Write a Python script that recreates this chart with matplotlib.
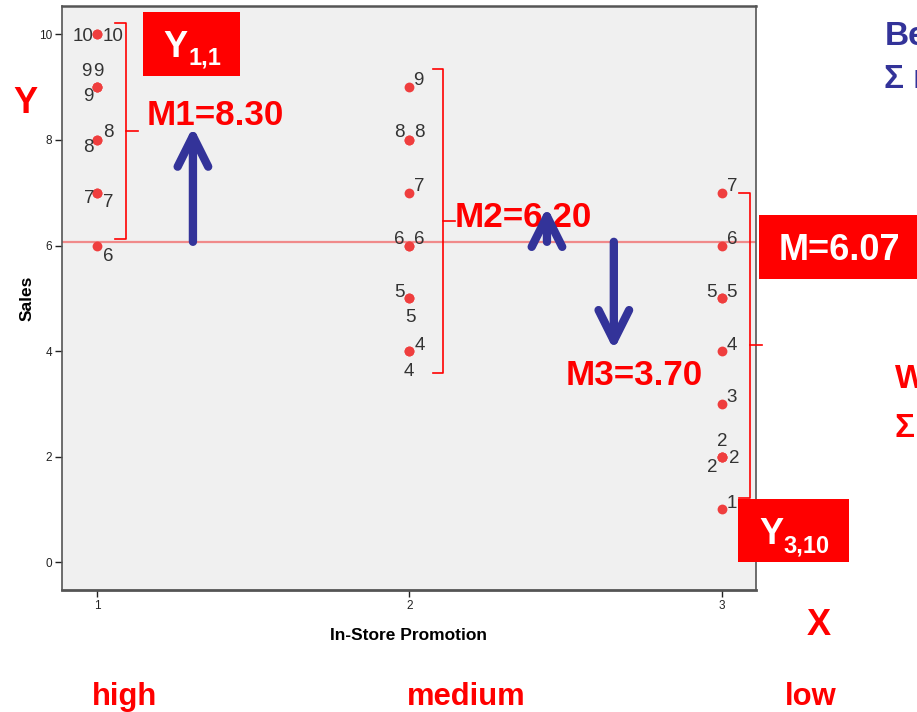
import matplotlib
matplotlib.use("Agg")

import matplotlib.pyplot as plt
from matplotlib.patches import Rectangle

W, H = 917, 712

# data: 10 stores per promotion level
promotion = [
    1, 1, 1, 1, 1, 1, 1, 1, 1, 1,
    2, 2, 2, 2, 2, 2, 2, 2, 2, 2,
    3, 3, 3, 3, 3, 3, 3, 3, 3, 3,
]
sales = [
    10, 10, 9, 9, 9, 8, 8, 7, 7, 6,
    9, 8, 8, 7, 6, 6, 5, 5, 4, 4,
    7, 6, 5, 5, 4, 3, 2, 2, 2, 1,
]
group_names = ["high", "medium", "low"]
group_means = [8.30, 6.20, 3.70]
grand_mean = 6.07
x_ticks = [1, 2, 3]
y_ticks = [0, 2, 4, 6, 8, 10]

# where each value label sits around its dot (pixels, same order as sales)
label_offsets = [
    (-14, 0), (16, 0), (-11, 18), (1, 18), (-9, -7),
    (-9, -6), (11, 9), (-8, -4), (11, -8), (11, -9),
    (9, 9), (-10, 9), (10, 9), (10, 8), (-10, 8),
    (10, 8), (-10, 8), (1, -17), (10, 8), (-1, -18),
    (10, 8), (10, 8), (-10, 8), (10, 8), (10, 8),
    (10, 8), (0, 17), (-10, -9), (12, 0), (10, 8),
]

RED = "#ff0000"
BLUE = "#333399"

plt.rcParams["font.family"] = ["Liberation Sans", "DejaVu Sans"]


def fx(px):
    return px / W


def fy(py):
    return 1 - py / H


fig = plt.figure(figsize=(W / 100, H / 100), dpi=100)
fig.patch.set_facecolor("white")

ax = fig.add_axes([fx(62), fy(590), (756 - 62) / W, (590 - 6) / H])
ax.set_facecolor("#f0f0f0")
ax.set_xlim(0.888, 3.109)
ax.set_ylim(-0.53, 10.54)

ax.set_xticks(x_ticks)
ax.set_yticks(y_ticks)
ax.tick_params(
    length=5,
    width=1,
    pad=2,
    labelsize=8.5,
    colors="#222222"
)

for side in ["top", "right", "left", "bottom"]:
    ax.spines[side].set_color("#555555")
    ax.spines[side].set_linewidth(1.2)
ax.spines["bottom"].set_linewidth(2)
ax.spines["top"].set_linewidth(1.8)

ax.set_xlabel("In-Store Promotion", fontsize=12.5, fontweight="bold")
ax.xaxis.set_label_coords(0.5, -0.065)
ax.set_ylabel("Sales", fontsize=12.5, fontweight="bold")
ax.yaxis.set_label_coords(-0.040, 0.5)

# grand mean line
ax.axhline(grand_mean, color="#f08a8a", lw=1.6, zorder=1)

# dots
ax.scatter(promotion, sales, s=50, color="#ef3e3e", linewidths=0, zorder=3)

for xv, yv, (dx, dy) in zip(promotion, sales, label_offsets):
    ax.annotate(
        str(yv),
        (xv, yv),
        xytext=(dx, dy - 2),
        textcoords="offset pixels",
        ha="center",
        va="center",
        fontsize=13.5,
        color="#333333",
        zorder=4
    )

# red brackets round each group
brace_x = [1.093, 2.107, 3.090]
brace_left = [1.058, 2.075, 3.054]
brace_tick = [1.131, 2.146, 3.128]
brace_top = [10.22, 9.35, 7.00]
brace_bottom = [6.12, 3.58, 1.21]

for bx, bl, bt, top, bot in zip(brace_x, brace_left, brace_tick, brace_top, brace_bottom):
    ax.plot(
        [bl, bx, bx, bl],
        [top, top, bot, bot],
        color=RED,
        lw=1.2,
        clip_on=False,
        zorder=5
    )
    mid = (top + bot) / 2
    ax.plot([bx, bt], [mid, mid], color=RED, lw=1.2, clip_on=False, zorder=5)

# group mean labels
mean_text_pos = [(147, 125), (455, 227), (566, 385)]
for i, (m, (px, py)) in enumerate(zip(group_means, mean_text_pos)):
    ax.text(
        fx(px),
        fy(py),
        f"M{i + 1}={m:.2f}",
        transform=fig.transFigure,
        ha="left",
        va="baseline",
        fontsize=25.2,
        fontweight="bold",
        color=RED,
        clip_on=False,
        zorder=6
    )

# arrows from grand mean towards group means
arrow_x = [1.307, 2.44, 2.654]
arrow_tip = [8.25, 6.73, 4.02]
for axv, tip in zip(arrow_x, arrow_tip):
    ax.annotate(
        "",
        xy=(axv, tip),
        xytext=(axv, grand_mean),
        arrowprops=dict(
            arrowstyle="->,head_length=1.0,head_width=0.5",
            mutation_scale=22,
            lw=6,
            color=BLUE,
            capstyle="round",
            joinstyle="round",
            shrinkA=0,
            shrinkB=0
        ),
        zorder=7
    )


def red_box(x0, y0, x1, y1):
    fig.add_artist(
        Rectangle(
            (fx(x0), fy(y1)),
            (x1 - x0) / W,
            (y1 - y0) / H,
            transform=fig.transFigure,
            facecolor=RED,
            edgecolor="none",
            zorder=8
        )
    )


def fig_label(px, py, s, size, color, **kw):
    fig.text(
        fx(px),
        fy(py),
        s,
        ha="left",
        va="baseline",
        fontsize=size,
        fontweight="bold",
        color=color,
        zorder=9,
        **kw
    )


# Y_{1,1} box
red_box(143, 12, 240, 76)
fig_label(163, 57, "Y", 26, "white")
fig_label(188, 65, "1,1", 17, "white")

# Y_{3,10} box
red_box(738, 499, 849, 562)
fig_label(759, 544, "Y", 26, "white")
fig_label(783, 553, "3,10", 17, "white")

# grand mean box
red_box(759, 215, 917, 279)
fig_label(779, 260, f"M={grand_mean:.2f}", 26, "white")

# axis letters and level names
fig_label(13, 113, "Y", 26, RED)
fig_label(807, 635, "X", 26, RED)

name_left = [92, 407, 785]
for name, px in zip(group_names, name_left):
    fig_label(px, 705, name, 22.3, RED)

# text cut off at the right edge, as in the slide
fig_label(885, 45, "Between", 24, BLUE)
fig_label(884, 88, "Σ n", 24, BLUE)
fig_label(895, 388, "Within", 24, RED)
fig_label(895, 437, "Σ", 24, RED)

fig.savefig("out.png", dpi=100)
